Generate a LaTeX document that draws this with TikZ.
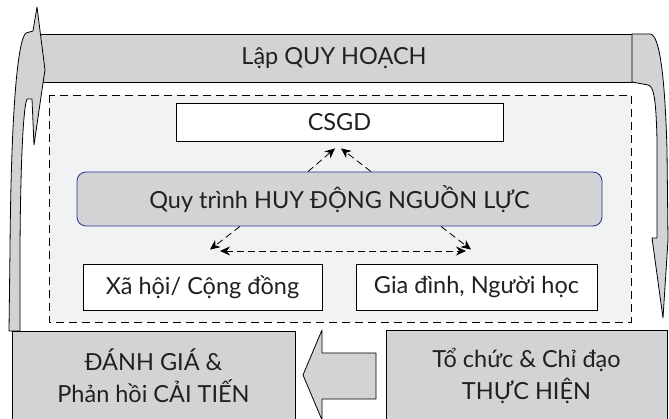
\documentclass[tikz,border=0pt]{standalone}
\usepackage{fontspec}
\setmainfont{Lato}
\usetikzlibrary{arrows.meta}
\definecolor{barGray}{RGB}{209,211,212}
\definecolor{paleGray}{RGB}{241,242,244}
\definecolor{navyLine}{RGB}{46,49,146}
\definecolor{inkText}{RGB}{35,31,32}
\tikzset{
  box/.style={draw=black, line width=0.8pt, inner sep=0pt, align=center, text=inkText,
    font=\fontsize{23.5}{32}\selectfont},
  graybox/.style={box, fill=barGray},
  whitebox/.style={box, fill=white},
  flowarrow/.style={draw=black, line width=0.8pt, fill=barGray, line join=round},
  link/.style={line width=0.8pt, dash pattern=on 7pt off 4pt, -{Stealth[length=10pt,width=9pt]}},
}

\begin{document}
\begin{tikzpicture}[x=1pt,y=-1pt]
			%%%%% START %%%%%
			\useasboundingbox (0,0) rectangle (669,419);
			\clip (0,0) rectangle (669,419);
			
			% top bar
			\node[graybox, minimum width=596pt, minimum height=48pt] (plan) at (334,58) {L\d{\^a}p QUY HO\d{A}CH};
			
			% curved arrow on the left
			\draw[flowarrow] (9,331) -- (10,250) .. controls (11,120) and (17,40) .. (26,33) -- (33,31) -- (37,7)
				-- (45,70) -- (43,83) -- (34,145) -- (32,99) -- (27,99)
				.. controls (22,110) and (20,200) .. (20,260) -- (20,331) -- cycle;
			
			% curved arrow on the right
			\draw[flowarrow] (632,34) -- (650,34) .. controls (660,34) and (665,80) .. (667,150) -- (668,240)
				-- (663,318) -- (652,238) -- (657,238) -- (657,140)
				.. controls (656,100) and (654,86) .. (648,85) -- (632,82) -- cycle;
			
			% dashed frame
			\draw[line width=0.8pt, dash pattern=on 8pt off 5pt, fill=paleGray] (49,95) rectangle (631,322);
			
			\node[whitebox, minimum width=327pt, minimum height=38pt] (csgd) at (339.5,122) {CSGD};
			\node[box, draw=navyLine, fill=barGray, rounded corners=9pt, minimum width=525pt, minimum height=54pt]
				(huydong) at (339.5,199) {Quy trình HUY ĐỘNG NGUỒN LỰC};
			\node[whitebox, minimum width=239pt, minimum height=46pt] (xahoi) at (202.5,287) {Xã hội/ Cộng đồng};
			\node[whitebox, minimum width=241pt, minimum height=46pt] (giadinh) at (476.5,287) {Gia đình, Người học};
			
			\draw[link] ([xshift=-31.5pt]huydong.north) -- ([xshift=-4.5pt,yshift=-7pt]csgd.south);
			\draw[link] ([xshift=31.5pt]huydong.north) -- ([xshift=1.5pt,yshift=-7pt]csgd.south);
			\draw[link] ([xshift=-99.5pt]huydong.south) -- ([xshift=7.5pt,yshift=14pt]xahoi.north);
			\draw[link] ([xshift=101.5pt]huydong.south) -- ([xshift=-5.5pt,yshift=14pt]giadinh.north);
			\coordinate (hleft) at (220,251);
			\coordinate (hright) at (466,251);
			\draw[link, {Stealth[length=10pt,width=9pt]}-{Stealth[length=10pt,width=9pt]}] (hleft) -- (hright);
			
			% bottom row
			\node[graybox, minimum width=283pt, minimum height=90pt] (danhgia) at (153.5,376)
				{ĐÁNH GIÁ \&\\Phản hồi CẢI TIẾN};
			\node[graybox, minimum width=281pt, minimum height=92pt] (tochuc) at (526.5,376)
				{Tổ chức \& Chỉ đạo\\THỰC HIỆN};
			
			\draw[flowarrow] (376,353) -- (322,353) -- (322,330) -- (303,375) -- (322,420) -- (322,399) -- (376,399) -- cycle;
			%%%%% END %%%%%
\end{tikzpicture}
\end{document}
